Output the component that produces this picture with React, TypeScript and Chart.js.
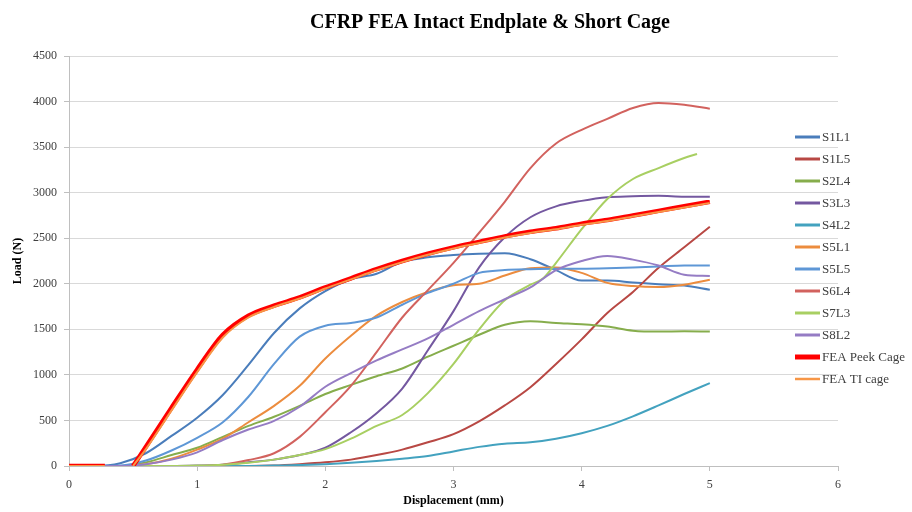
import { useEffect, useRef } from "react";
import { Chart, registerables } from "chart.js";

Chart.register(...registerables);

// Displacement grid (mm) shared by the test series
const xs = [0, 0.2, 0.4, 0.6, 0.8, 1.0, 1.2, 1.4, 1.6, 1.8, 2.0, 2.2, 2.4, 2.6, 2.8, 3.0, 3.2, 3.4, 3.6, 3.8, 4.0, 4.2, 4.4, 4.6, 4.8, 5.0];
const xsS7L3 = [0, 0.2, 0.4, 0.6, 0.8, 1.0, 1.2, 1.4, 1.6, 1.8, 2.0, 2.2, 2.4, 2.6, 2.8, 3.0, 3.2, 3.4, 3.6, 3.7, 3.8, 4.0, 4.2, 4.4, 4.6, 4.8, 4.9];
const xsFEA = [0, 0.28, 0.4, 0.5, 0.6, 0.8, 1.0, 1.2, 1.4, 1.6, 1.8, 2.0, 2.2, 2.4, 2.6, 2.8, 3.0, 3.2, 3.4, 3.6, 3.8, 4.0, 4.2, 4.4, 4.6, 4.8, 5.0];

// Load (N)
const s1l1 = [0, 0, 30, 140, 330, 530, 780, 1110, 1460, 1730, 1920, 2050, 2110, 2240, 2290, 2315, 2330, 2335, 2270, 2150, 2035, 2035, 2015, 1995, 1980, 1935];
const s1l5 = [0, 0, 0, 0, 0, 0, 0, 0, 5, 20, 40, 70, 120, 180, 260, 350, 490, 665, 865, 1120, 1390, 1680, 1910, 2175, 2400, 2625];
const s2l4 = [0, 0, 0, 40, 120, 200, 320, 440, 540, 660, 790, 890, 985, 1070, 1200, 1320, 1440, 1550, 1590, 1570, 1555, 1530, 1485, 1475, 1478, 1475];
const s3l3 = [0, 0, 0, 0, 0, 5, 15, 40, 70, 120, 200, 370, 580, 850, 1270, 1700, 2180, 2510, 2730, 2850, 2910, 2950, 2960, 2965, 2955, 2955];
const s4l2 = [0, 0, 0, 0, 0, 0, 0, 0, 5, 10, 20, 35, 55, 80, 110, 160, 210, 245, 260, 300, 360, 440, 545, 665, 790, 910];
const s5l1 = [0, 0, 0, 20, 80, 180, 300, 480, 660, 880, 1180, 1430, 1650, 1800, 1910, 1985, 2000, 2090, 2170, 2180, 2120, 2010, 1975, 1965, 1990, 2045];
const s5l5 = [0, 0, 5, 60, 170, 310, 480, 760, 1120, 1420, 1540, 1570, 1630, 1770, 1900, 2000, 2120, 2150, 2160, 2165, 2165, 2170, 2180, 2190, 2200, 2200];
const s6l4 = [0, 0, 0, 0, 0, 0, 15, 65, 140, 320, 590, 880, 1250, 1630, 1930, 2230, 2560, 2900, 3270, 3540, 3690, 3810, 3930, 3985, 3965, 3922];
const s7l3 = [0, 0, 0, 0, 0, 5, 15, 35, 70, 120, 185, 300, 440, 560, 800, 1120, 1500, 1820, 1990, 2060, 2230, 2600, 2930, 3150, 3270, 3380, 3425];
const s8l2 = [0, 0, 0, 20, 70, 150, 285, 400, 495, 650, 870, 1020, 1160, 1280, 1400, 1550, 1700, 1830, 1960, 2150, 2250, 2305, 2265, 2200, 2100, 2085];
const feaPeek = [0, 0, null, 0, 210, 640, 1060, 1440, 1650, 1760, 1850, 1960, 2060, 2160, 2250, 2330, 2400, 2460, 2520, 2570, 2610, 2660, 2700, 2750, 2800, 2850, 2900];
const feaTi = [0, 0, null, 0, 185, 610, 1030, 1410, 1630, 1745, 1838, 1948, 2048, 2148, 2238, 2318, 2388, 2448, 2508, 2558, 2598, 2648, 2688, 2738, 2788, 2838, 2888];

const labels = ["S1L1", "S1L5", "S2L4", "S3L3", "S4L2", "S5L1", "S5L5", "S6L4", "S7L3", "S8L2", "FEA Peek Cage", "FEA TI cage"];
const colors = ["#4a7dbb", "#b84844", "#86ad4c", "#7458a0", "#43a2bf", "#ec8c3e", "#5e97d6", "#d2625e", "#a8cf62", "#957cc4", "#ff0000", "#f79646"];
const xTicks = [0, 1, 2, 3, 4, 5, 6];
const yTicks = [0, 500, 1000, 1500, 2000, 2500, 3000, 3500, 4000, 4500];

const pts = (xArr: number[], yArr: (number | null)[]) => xArr.map((x, i) => ({ x, y: yArr[i] }));

const sideLegend = {
  id: "sideLegend",
  afterDraw(chart: any) {
    const { ctx, chartArea } = chart;
    ctx.save();
    ctx.font = "13px 'Liberation Serif'";
    ctx.textBaseline = "middle";
    ctx.textAlign = "left";
    chart.data.datasets.forEach((ds: any, i: number) => {
      const y = chartArea.top + 81 + i * 22;
      const x0 = chartArea.right - 43;
      ctx.strokeStyle = ds.borderColor;
      ctx.lineWidth = ds.legendWidth;
      ctx.beginPath();
      ctx.moveTo(x0, y);
      ctx.lineTo(x0 + 25, y);
      ctx.stroke();
      ctx.fillStyle = "#404040";
      ctx.fillText(ds.label, x0 + 27, y + 1);
    });
    ctx.restore();
  },
};

export default function App() {
  const ref = useRef<HTMLCanvasElement | null>(null);

  useEffect(() => {
    if (!ref.current) return;
    const seriesY = [s1l1, s1l5, s2l4, s3l3, s4l2, s5l1, s5l5, s6l4, s7l3, s8l2, feaPeek, feaTi];
    const seriesX = [xs, xs, xs, xs, xs, xs, xs, xs, xsS7L3, xs, xsFEA, xsFEA];
    const datasets = seriesY.map((vals, i) => {
      const isPeek = i === 10;
      const isTi = i === 11;
      return {
        label: labels[i],
        data: pts(seriesX[i], vals),
        borderColor: colors[i],
        backgroundColor: colors[i],
        borderWidth: isPeek ? 4.5 : 2,
        legendWidth: isPeek ? 5 : isTi ? 2.5 : 3,
        pointRadius: 0,
        pointHoverRadius: 0,
        cubicInterpolationMode: "monotone" as const,
        spanGaps: false,
        fill: false,
        order: 11 - i,
      };
    });

    const tickFont = { family: "'Liberation Serif'", size: 12 };
    const chart = new Chart(ref.current, {
      type: "line",
      data: { datasets: datasets as any },
      plugins: [sideLegend],
      options: {
        animation: false,
        responsive: false,
        devicePixelRatio: 1,
        layout: { padding: { left: 0, right: -68, top: 0, bottom: 0 } },
        plugins: {
          legend: { display: false },
          tooltip: { enabled: false },
          title: {
            display: true,
            text: "CFRP FEA Intact Endplate & Short Cage",
            color: "#000000",
            font: { family: "'Liberation Serif'", size: 20, weight: "bold" },
            padding: { top: 11, bottom: 21 },
          },
        },
        scales: {
          x: {
            type: "linear",
            min: 0,
            max: 6,
            afterBuildTicks: (s: any) => { s.ticks = xTicks.map((v) => ({ value: v })); },
            ticks: { font: tickFont, color: "#404040", padding: 7, callback: (v: any) => String(v) },
            grid: { drawOnChartArea: false, drawTicks: true, tickLength: 5, color: "#bfbfbf" },
            border: { color: "#bfbfbf" },
            title: {
              display: true,
              text: "Displacement (mm)",
              color: "#000000",
              font: { family: "'Liberation Serif'", size: 12, weight: "bold" },
              padding: { top: 0, bottom: 4 },
            },
            afterFit: (s: any) => { s.height = 46; },
          },
          y: {
            type: "linear",
            position: "left",
            min: 0,
            max: 4500,
            afterBuildTicks: (s: any) => { s.ticks = yTicks.map((v) => ({ value: v })); },
            ticks: { font: tickFont, color: "#404040", padding: 7, callback: (v: any) => String(v) },
            grid: { color: "#d9d9d9", tickLength: 5, tickColor: "#bfbfbf" },
            border: { color: "#bfbfbf" },
            title: {
              display: true,
              text: "Load (N)",
              color: "#000000",
              font: { family: "'Liberation Serif'", size: 12, weight: "bold" },
              padding: { top: 11, bottom: 0 },
            },
            afterFit: (s: any) => { s.width = 69; },
          },
          y2: {
            type: "linear",
            position: "right",
            display: true,
            grid: { display: false, drawTicks: false },
            border: { display: false },
            ticks: { display: false },
            afterFit: (s: any) => { s.width = 142; },
          },
        },
      } as any,
    });
    return () => chart.destroy();
  }, []);

  return (
    <div style={{ position: "fixed", left: 0, top: 0, width: 912, height: 512, background: "#ffffff" }}>
      <canvas ref={ref} width={912} height={512} style={{ display: "block" }} />
    </div>
  );
}
